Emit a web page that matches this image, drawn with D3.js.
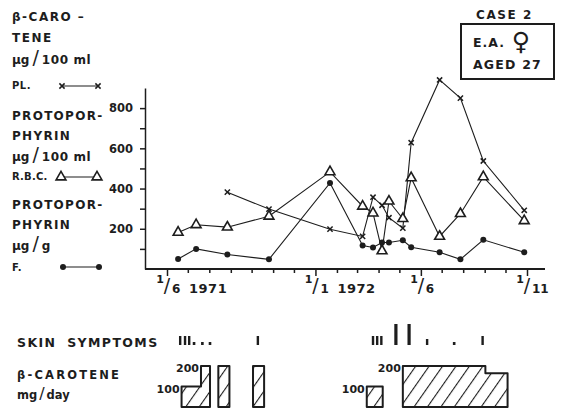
<!DOCTYPE html>
<html>
<head>
<meta charset="utf-8">
<script src="https://cdn.jsdelivr.net/npm/d3@7"></script>
<style>
  body { margin: 0; background: #fff; }
  svg text { font-family: "DejaVu Sans", sans-serif; font-weight: bold; fill: #1d1d1d; }
</style>
</head>
<body>
<div id="chart"></div>
<script>
// sampling dates and the three measured series (null = not measured)
var sampleDates = ["1971-06-17", "1971-07-13", "1971-08-27", "1971-10-26", "1972-01-22",
                   "1972-03-09", "1972-03-24", "1972-04-06", "1972-04-16", "1972-05-06",
                   "1972-05-18", "1972-06-28", "1972-07-28", "1972-08-30", "1972-10-28"];
var plValues  = [null, null, 382, 298, 198, 162, 357, 317, 255, 203, 628, 940, 850, 537, 292];
var rbcValues = [182, 220, 208, 262, 483, 312, 278, 90, 337, 250, 453, 162, 275, 458, 240];
var fValues   = [50, 100, 72, 48, 428, 117, 107, 132, 132, 143, 108, 83, 48, 145, 83];

var yTickValues = [100, 200, 300, 400, 500, 600, 700, 800];
var axisLabelDates = ["1971-06-01", "1972-01-01", "1972-06-01", "1972-11-01"];
var axisLabelYears = ["1971", "1972", "", ""];

// skin symptoms: date and grade (1 dot, 2 short, 3 bar, 4 long bar)
var symptomDates  = ["1971-06-20", "1971-06-27", "1971-07-03", "1971-07-10", "1971-07-22", "1971-08-02",
                     "1971-10-10", "1972-03-24", "1972-03-30", "1972-04-05", "1972-04-26", "1972-05-15",
                     "1972-06-10", "1972-07-19", "1972-08-29"];
var symptomGrades = [3, 3, 3, 1, 1, 1, 3, 3, 3, 3, 4, 4, 2, 1, 3];

// beta-carotene courses: [date, mg/day], the last point closes the course
var doseCourses = [
  [["1971-06-22", 100], ["1971-07-20", 200], ["1971-08-02", 200]],
  [["1971-08-14", 200], ["1971-08-30", 200]],
  [["1971-10-03", 200], ["1971-10-19", 200]],
  [["1972-03-15", 100], ["1972-04-07", 100]],
  [["1972-05-06", 200], ["1972-09-02", 165], ["1972-10-04", 165]]
];
var doseLabelDates  = ["1971-06-22", "1971-07-20", "1972-03-15", "1972-05-06"];
var doseLabelValues = [100, 200, 100, 200];

var w = 563;
var h = 412;
var parse = d3.timeParse("%Y-%m-%d");
var ink = "#1d1d1d";

var svg = d3.select("#chart").append("svg")
    .attr("width", w)
    .attr("height", h);

var defs = svg.append("defs");
var hatch = defs.append("pattern")
    .attr("id", "hatch")
    .attr("patternUnits", "userSpaceOnUse")
    .attr("width", 11)
    .attr("height", 11)
    .attr("patternTransform", "rotate(35)");
hatch.append("line")
    .attr("x1", 0).attr("y1", 0).attr("x2", 0).attr("y2", 11)
    .attr("stroke", ink).attr("stroke-width", 2.2);

var xScale = d3.scaleTime()
    .domain([parse("1971-06-01"), parse("1972-11-01")])
    .range([167, 527]);

var yScale = d3.scaleLinear()
    .domain([0, 900])
    .range([269, 88]);

var doseScale = d3.scaleLinear()
    .domain([0, 200])
    .range([407, 366]);

// y axis
svg.append("g")
    .attr("transform", "translate(145,0)")
    .call(d3.axisLeft(yScale)
        .tickValues(yTickValues)
        .tickSize(5)
        .tickSizeOuter(0)
        .tickPadding(7)
        .tickFormat(function(d) { return d % 200 === 0 ? d : ""; }))
    .call(function(g) {
        g.selectAll("path, line").attr("stroke", ink).attr("stroke-width", 1.5);
        g.selectAll("text").style("font-size", "11.5px").attr("fill", ink);
    });

// x axis, monthly ticks
var xAxisG = svg.append("g")
    .attr("transform", "translate(0," + yScale(0) + ")")
    .call(d3.axisBottom(xScale)
        .tickValues(d3.timeMonth.range(parse("1971-06-01"), parse("1972-11-02")))
        .tickSize(4)
        .tickFormat(""));
xAxisG.select(".domain").remove();
xAxisG.selectAll("line").attr("stroke", ink).attr("stroke-width", 1.5);
var labelTimes = axisLabelDates.map(function(s) { return +parse(s); });
xAxisG.selectAll(".tick line")
    .filter(function(d) { return labelTimes.indexOf(+d) >= 0; })
    .attr("y2", 7);
svg.append("line")
    .attr("x1", 145).attr("x2", 545)
    .attr("y1", yScale(0)).attr("y2", yScale(0))
    .attr("stroke", ink).attr("stroke-width", 1.8);

// date labels like 1/6 1971
axisLabelDates.forEach(function(s, i) {
    var d = parse(s);
    var g = svg.append("g").attr("transform", "translate(" + xScale(d) + ",0)");
    g.append("text").attr("x", -3).attr("y", 283).attr("text-anchor", "end")
        .style("font-size", "11px").text(d.getDate());
    g.append("text").attr("x", 0).attr("y", 292).attr("text-anchor", "middle")
        .style("font-size", "19px").style("font-weight", "normal").text("/");
    g.append("text").attr("x", 5).attr("y", 293)
        .style("font-size", "12px").text(d.getMonth() + 1);
    g.append("text").attr("x", 22).attr("y", 293)
        .style("font-size", "13px").style("letter-spacing", "0.5px").text(axisLabelYears[i]);
});

// series
function series(values) {
    return sampleDates.map(function(s, i) { return { date: parse(s), v: values[i] }; })
        .filter(function(d) { return d.v !== null; });
}
var line = d3.line()
    .x(function(d) { return xScale(d.date); })
    .y(function(d) { return yScale(d.v); });

var plData = series(plValues);
var rbcData = series(rbcValues);
var fData = series(fValues);

[plData, rbcData, fData].forEach(function(data) {
    svg.append("path")
        .datum(data)
        .attr("d", line)
        .attr("fill", "none")
        .attr("stroke", ink)
        .attr("stroke-width", 1.1);
});

var triangle = d3.symbol().type(d3.symbolTriangle).size(42);

function drawCross(sel) {
    sel.append("path")
        .attr("d", "M-2.6,-2.6L2.6,2.6M-2.6,2.6L2.6,-2.6")
        .attr("stroke", ink).attr("stroke-width", 1.5);
}
function drawTriangle(sel) {
    sel.append("path")
        .attr("d", triangle)
        .attr("fill", "#fff").attr("stroke", ink).attr("stroke-width", 1.6);
}
function drawDot(sel) {
    sel.append("circle")
        .attr("r", 3)
        .attr("fill", ink);
}

function markers(data, draw) {
    svg.append("g").selectAll("g")
        .data(data)
        .join("g")
        .attr("transform", function(d) { return "translate(" + xScale(d.date) + "," + yScale(d.v) + ")"; })
        .call(draw);
}
markers(plData, drawCross);
markers(rbcData, drawTriangle);
markers(fData, drawDot);

// left legend text
function unitText(y, tail) {
    var t = svg.append("text").attr("x", 12).attr("y", y).style("font-size", "12px");
    t.append("tspan").text("µg");
    t.append("tspan").attr("dx", 3).style("font-size", "19px").style("font-weight", "normal").text("/");
    t.append("tspan").attr("dx", 3).style("letter-spacing", "0.6px").text(tail);
}
function caps(y, s, size, spacing) {
    svg.append("text").attr("x", 12).attr("y", y)
        .style("font-size", size + "px").style("letter-spacing", spacing + "px").text(s);
}
caps(21, "β-CARO –", 12, 1.5);
caps(42, "TENE", 12, 1.5);
unitText(64, "100 ml");
caps(89, "PL.", 10, 0.5);
caps(120, "PROTOPOR-", 12, 1.3);
caps(140, "PHYRIN", 12, 1.3);
unitText(161, "100 ml");
caps(180, "R.B.C.", 10, 0.2);
caps(209, "PROTOPOR-", 12, 1.3);
caps(229, "PHYRIN", 12, 1.3);
unitText(250, "g");
caps(271, "F.", 10, 0.5);

function legendSample(y, x1, x2, draw) {
    svg.append("line").attr("x1", x1).attr("x2", x2).attr("y1", y).attr("y2", y)
        .attr("stroke", ink).attr("stroke-width", 1.2);
    svg.append("g").selectAll("g").data([x1, x2]).join("g")
        .attr("transform", function(d) { return "translate(" + d + "," + y + ")"; })
        .call(draw);
}
legendSample(86, 62, 98, drawCross);
legendSample(177, 61, 97, drawTriangle);
legendSample(267, 63, 99, drawDot);

// case box
svg.append("text").attr("x", 476).attr("y", 19)
    .style("font-size", "12px").style("letter-spacing", "1.6px").text("CASE 2");
svg.append("rect")
    .attr("x", 461).attr("y", 24).attr("width", 93).attr("height", 55)
    .attr("fill", "none").attr("stroke", ink).attr("stroke-width", 2);
svg.append("text").attr("x", 473).attr("y", 47)
    .style("font-size", "12.5px").style("letter-spacing", "1px").text("E.A.");
svg.append("text").attr("x", 521).attr("y", 50).attr("text-anchor", "middle")
    .style("font-size", "25px").style("font-weight", "normal").text("♀");
svg.append("text").attr("x", 473).attr("y", 69)
    .style("font-size", "12.5px").style("letter-spacing", "1.2px").text("AGED 27");

// skin symptoms
svg.append("text").attr("x", 17).attr("y", 347)
    .style("font-size", "12.5px").style("letter-spacing", "1.4px").style("word-spacing", "5px")
    .text("SKIN SYMPTOMS");

var gradeHeight = d3.scaleOrdinal().domain([1, 2, 3, 4]).range([3, 6, 9, 21]);
var gradeWidth = d3.scaleOrdinal().domain([1, 2, 3, 4]).range([2.6, 2.4, 2.4, 3.2]);
svg.append("g").selectAll("rect")
    .data(symptomDates.map(function(s, i) { return { date: parse(s), grade: symptomGrades[i] }; }))
    .join("rect")
    .attr("x", function(d) { return xScale(d.date) - gradeWidth(d.grade) / 2; })
    .attr("y", function(d) { return 345 - gradeHeight(d.grade); })
    .attr("width", function(d) { return gradeWidth(d.grade); })
    .attr("height", function(d) { return gradeHeight(d.grade); })
    .attr("fill", ink);

// beta-carotene dose
svg.append("text").attr("x", 17).attr("y", 379)
    .style("font-size", "11.5px").style("letter-spacing", "2.2px")
    .text("β-CAROTENE");
var mt = svg.append("text").attr("x", 17).attr("y", 399).style("font-size", "11.5px");
mt.append("tspan").text("mg");
mt.append("tspan").attr("dx", 2).style("font-size", "16px").style("font-weight", "normal").text("/");
mt.append("tspan").attr("dx", 2).text("day");

var doseArea = d3.area()
    .curve(d3.curveStepAfter)
    .x(function(d) { return xScale(parse(d[0])); })
    .y0(doseScale(0))
    .y1(function(d) { return doseScale(d[1]); });

svg.append("g").selectAll("path")
    .data(doseCourses)
    .join("path")
    .attr("d", doseArea)
    .attr("fill", "url(#hatch)")
    .attr("stroke", ink)
    .attr("stroke-width", 2)
    .attr("stroke-linejoin", "round");

svg.append("g").selectAll("text")
    .data(doseLabelDates.map(function(s, i) { return { date: parse(s), mg: doseLabelValues[i] }; }))
    .join("text")
    .attr("x", function(d) { return xScale(d.date) - 2; })
    .attr("y", function(d) { return doseScale(d.mg) + 6; })
    .attr("text-anchor", "end")
    .style("font-size", "11px")
    .text(function(d) { return d.mg; });
</script>
</body>
</html>
